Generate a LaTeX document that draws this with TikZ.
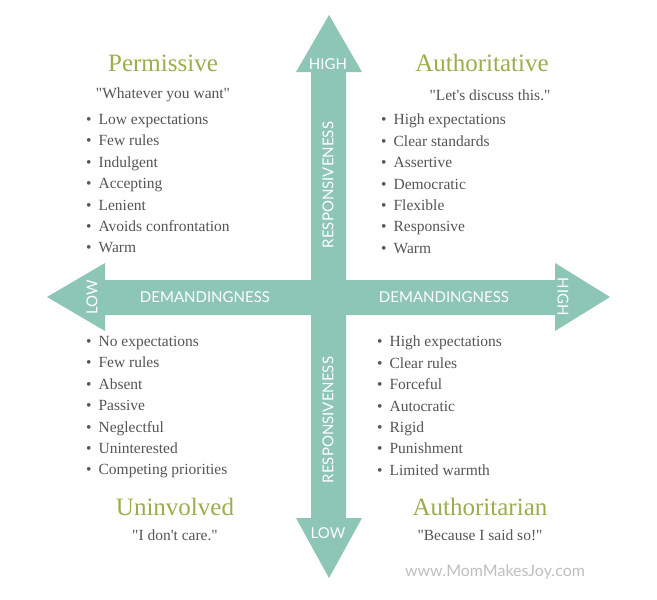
\documentclass[tikz,border=0pt]{standalone}
\usepackage{fontspec}
\setmainfont{Liberation Serif}[Ligatures=TeXOff]
\newfontfamily\lato{Lato}
\definecolor{teal}{HTML}{8DC6B4}
\definecolor{olive}{HTML}{9AAE4E}
\definecolor{txt}{HTML}{555555}
\newcommand{\bt}{\textbullet\hspace{7pt}}
\newcommand{\dq}{"}
\begin{document}
\begin{tikzpicture}[x=1pt,y=-1pt,
  ttl/.style={text=olive,font=\fontsize{25}{27}\selectfont},
  quote/.style={text=txt,font=\fontsize{15.5}{17}\selectfont},
  lst/.style={text=txt,font=\fontsize{15.5}{21.4}\selectfont,align=left,anchor=north west,inner sep=0pt},
  lab/.style={text=white,font=\lato\fontsize{15}{16}\selectfont}]
\useasboundingbox (0,0) rectangle (657,600);
\fill[white] (0,0) rectangle (657,600);
% vertical arrow
\fill[teal] (329,15) -- (362,72) -- (346,72) -- (346,518) -- (362,518) -- (329,578) -- (296,518) -- (311,518) -- (311,72) -- (296,72) -- cycle;
% horizontal arrow
\fill[teal] (47,297) -- (105,263) -- (105,280) -- (555,280) -- (555,263) -- (610,297) -- (555,331) -- (555,315) -- (105,315) -- (105,331) -- cycle;
\node[lab] (vh) at (328,64) {HIGH};
\node[lab] (vl) at (328,533) {LOW};
\node[lab,rotate=90] (r1) at (328,185) {RESPONSIVENESS};
\node[lab,rotate=90] (r2) at (328,420) {RESPONSIVENESS};
\node[lab,rotate=90] (hl) at (92,297) {LOW};
\node[lab,rotate=-90] (hh) at (563,297) {HIGH};
\node[lab] (d1) at (205,297) {DEMANDINGNESS};
\node[lab] (d2) at (444,297) {DEMANDINGNESS};
% quadrants
\node[ttl] (t1) at (163,63) {Permissive};
\node[quote] (q1) at (163,95) {\dq Whatever you want\dq};
\node[lst] (l1) at (86,114) {\bt Low expectations\\\bt Few rules\\\bt Indulgent\\\bt Accepting\\\bt Lenient\\\bt Avoids confrontation\\\bt Warm};
\node[ttl] (t2) at (482,63) {Authoritative};
\node[quote] (q2) at (490,95) {\dq Let's discuss this.\dq};
\node[lst] (l2) at (381,114) {\bt High expectations\\\bt Clear standards\\\bt Assertive\\\bt Democratic\\\bt Flexible\\\bt Responsive\\\bt Warm};
\node[lst] (l3) at (86,336) {\bt No expectations\\\bt Few rules\\\bt Absent\\\bt Passive\\\bt Neglectful\\\bt Uninterested\\\bt Competing priorities};
\node[lst] (l4) at (377,336) {\bt High expectations\\\bt Clear rules\\\bt Forceful\\\bt Autocratic\\\bt Rigid\\\bt Punishment\\\bt Limited warmth};
\node[ttl] (t3) at (175,507) {Uninvolved};
\node[quote] (q3) at (175,535) {\dq I don't care.\dq};
\node[ttl] (t4) at (480,507) {Authoritarian};
\node[quote] (q4) at (480,535) {\dq Because I said so!\dq};
\node[text=black!25,font=\lato\fontsize{16}{17}\selectfont] (w) at (495,572) {www.MomMakesJoy.com};
\end{tikzpicture}
\end{document}
